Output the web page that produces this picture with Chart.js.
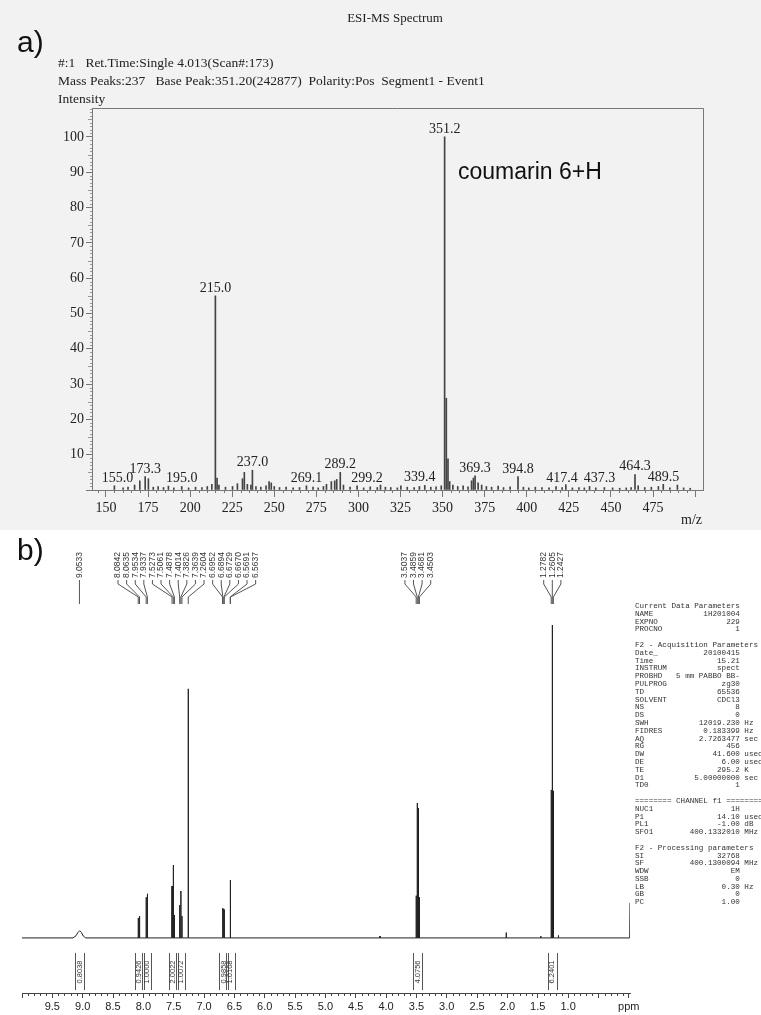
<!DOCTYPE html>
<html>
<head>
<meta charset="utf-8">
<script src="https://cdn.jsdelivr.net/npm/chart.js@4.4.0/dist/chart.umd.min.js"></script>
<style>
body { margin: 0; width: 761px; height: 1015px; position: relative; overflow: hidden; background: #fff; }
#scan { position: absolute; left: 0; top: 0; width: 761px; height: 530px; background: #f2f2f2; }
.t { position: absolute; white-space: pre; color: #222; font-family: "Liberation Serif", serif; line-height: 1; }
.big { font-family: "Liberation Sans", Arial, sans-serif; color: #111; }
#ms { position: absolute; left: 0; top: 0; }
#nmr { position: absolute; left: 0; top: 530px; }
#params { position: absolute; left: 635px; top: 603px; margin: 0; font-family: "Liberation Mono", monospace; font-size: 7.6px; line-height: 7.8px; color: #333; white-space: pre; }
</style>
</head>
<body>
<div id="scan"></div>
<canvas id="ms" width="761" height="530"></canvas>
<canvas id="nmr" width="761" height="485"></canvas>

<div class="t big" style="left:17px;top:27px;font-size:30px;">a)</div>
<div class="t" style="left:0;width:790px;text-align:center;top:11px;font-size:13px;">ESI-MS Spectrum</div>
<div class="t" style="left:58px;top:56px;font-size:13.5px;">#:1   Ret.Time:Single 4.013(Scan#:173)</div>
<div class="t" style="left:58px;top:74px;font-size:13.5px;">Mass Peaks:237   Base Peak:351.20(242877)  Polarity:Pos  Segment1 - Event1</div>
<div class="t" style="left:58px;top:92px;font-size:13.5px;">Intensity</div>
<div class="t big" style="left:458px;top:160px;font-size:23px;">coumarin 6+H</div>
<div class="t" style="left:681px;top:513px;font-size:14px;">m/z</div>
<div class="t big" style="left:17px;top:535px;font-size:30px;">b)</div>
<pre id="params"></pre>

<script>
// ---- a) ESI-MS peaks (m/z, relative intensity %)
const msMz = [155.0, 160.2, 163.1, 167.0, 170.1, 173.3, 175.2, 178.1, 181.0, 184.2, 187.1, 190.3,
  195.0, 199.1, 203.2, 207.0, 210.2, 212.9, 215.0, 216.0, 217.1, 221.0, 225.2, 228.1, 231.1,
  232.2, 234.0, 236.1, 237.0, 239.1, 242.0, 245.1, 246.9, 248.2, 250.0, 253.1, 257.0, 261.2,
  265.0, 269.1, 273.0, 276.1, 279.2, 281.0, 283.9, 285.9, 287.1, 289.2, 291.1, 295.0, 299.2,
  303.1, 307.0, 311.2, 313.1, 316.0, 319.2, 323.1, 325.2, 329.0, 333.1, 336.2, 339.4, 343.0,
  346.1, 349.2, 351.2, 352.2, 353.2, 354.2, 356.1, 359.0, 362.2, 365.1, 367.2, 368.3, 369.3,
  371.1, 373.2, 376.0, 379.1, 383.0, 386.2, 390.1, 394.8, 398.0, 401.2, 405.1, 409.0, 413.2,
  417.4, 421.0, 423.2, 427.1, 431.0, 434.2, 437.3, 441.0, 446.1, 451.0, 455.2, 459.1, 462.0,
  464.3, 466.2, 470.1, 474.0, 478.2, 481.1, 485.0, 489.5, 493.2, 497.1];
const msInt = [1.2, 0.6, 0.8, 1.4, 2.6, 3.8, 3.2, 0.8, 1.0, 0.7, 1.1, 0.6,
  1.0, 0.6, 0.8, 0.7, 1.0, 1.6, 55.0, 3.4, 1.4, 0.8, 1.0, 1.8, 3.2,
  5.0, 1.6, 1.4, 5.6, 1.0, 0.8, 1.2, 2.4, 2.0, 1.0, 0.7, 0.8, 0.6,
  0.7, 1.2, 0.8, 0.6, 1.0, 1.6, 2.4, 2.6, 3.0, 5.0, 1.4, 0.8, 1.2,
  0.6, 0.9, 0.7, 1.4, 0.8, 0.7, 0.6, 1.2, 0.8, 0.7, 1.0, 1.3, 0.8,
  0.9, 1.2, 100, 26.0, 8.8, 2.4, 1.4, 1.0, 1.2, 0.9, 2.6, 3.4, 4.0,
  2.0, 1.4, 1.0, 0.8, 1.1, 0.7, 0.9, 3.8, 0.8, 0.6, 0.8, 0.7, 0.6,
  1.0, 0.7, 1.5, 0.6, 0.7, 0.6, 1.0, 0.6, 0.7, 0.6, 0.5, 0.6, 0.7,
  4.4, 1.2, 0.7, 0.8, 1.0, 1.6, 0.6, 1.4, 0.6, 0.5];
const msLabeled = [155.0, 173.3, 195.0, 215.0, 237.0, 269.1, 289.2, 299.2, 339.4, 351.2,
  369.3, 394.8, 417.4, 437.3, 464.3, 489.5];
const msLabelShift = { 155.0: 3, 299.2: 10, 339.4: -5, 417.4: 6, 437.3: 10, 489.5: -14 };

// ---- b) 1H NMR
const nmrLabelPpm = [9.0533, 8.0842, 8.0635, 7.9534, 7.9337, 7.5273, 7.5061, 7.4878, 7.4014,
  7.3826, 7.3639, 7.2604, 6.6952, 6.6894, 6.6729, 6.6670, 6.5691, 6.5637,
  3.5037, 3.4859, 3.4681, 3.4503, 1.2782, 1.2605, 1.2427];
const nmrPeakPpm = [8.0842, 8.0635, 7.9534, 7.9337, 7.5273, 7.5061, 7.4878, 7.4014, 7.3826,
  7.3639, 7.2604, 6.6952, 6.6894, 6.6729, 6.6670, 6.5691, 6.5637, 4.10,
  3.5037, 3.4859, 3.4681, 3.4503, 2.02, 1.45, 1.2782, 1.2605, 1.2427, 1.16];
const nmrPeakInt = [6.4, 7.0, 13.0, 14.1, 16.6, 23.3, 7.3, 10.5, 15.0,
  7.0, 79.6, 9.5, 9.3, 9.3, 9.0, 18.5, 18.0, 0.6,
  13.5, 43.1, 41.5, 13.0, 1.7, 0.6, 47.3, 100, 47.0, 0.8];
// broad NH-type signal around 9.05 ppm
const broadPpm = [9.16, 9.11, 9.08, 9.05, 9.02, 8.99, 8.95];
const broadInt = [0, 0.7, 1.7, 2.3, 1.7, 0.6, 0];
const integralPpm = [9.05, 8.07, 7.94, 7.507, 7.382, 6.68, 6.566, 3.477, 1.26];
const integralVal = ['0.8038', '0.9426', '1.0000', '2.0022', '1.0072', '0.9858', '1.0108', '4.0756', '6.2401'];
const edgePpm = -0.02, edgeInt = 11.2;

const params = [
  ['Current Data Parameters'],
  ['NAME', '1H201004'], ['EXPNO', '229'], ['PROCNO', '1'], [''],
  ['F2 - Acquisition Parameters'],
  ['Date_', '20100415'], ['Time', '15.21'], ['INSTRUM', 'spect'], ['PROBHD', '5 mm PABBO BB-'],
  ['PULPROG', 'zg30'], ['TD', '65536'], ['SOLVENT', 'CDCl3'], ['NS', '8'], ['DS', '0'],
  ['SWH', '12019.230', 'Hz'], ['FIDRES', '0.183399', 'Hz'], ['AQ', '2.7263477', 'sec'],
  ['RG', '456'], ['DW', '41.600', 'usec'], ['DE', '6.00', 'usec'], ['TE', '295.2', 'K'],
  ['D1', '5.00000000', 'sec'], ['TD0', '1'], [''],
  ['======== CHANNEL f1 ========'],
  ['NUC1', '1H'], ['P1', '14.10', 'usec'], ['PL1', '-1.00', 'dB'], ['SFO1', '400.1332010', 'MHz'], [''],
  ['F2 - Processing parameters'],
  ['SI', '32768'], ['SF', '400.1300094', 'MHz'], ['WDW', 'EM'], ['SSB', '0'],
  ['LB', '0.30', 'Hz'], ['GB', '0'], ['PC', '1.00']
];
document.getElementById('params').textContent = params.map(r => {
  if (r.length === 1) return r[0];
  const line = r[0] + r[1].padStart(23 - r[0].length);
  return r[2] ? line + ' ' + r[2] : line;
}).join('\n');

const serif = '"Liberation Serif", serif';
const sans = '"Liberation Sans", Arial, sans-serif';

const msDecor = {
  id: 'msDecor',
  afterDraw(chart) {
    const { ctx, chartArea: a, scales: { x, y } } = chart;
    ctx.save();
    ctx.strokeStyle = '#777';
    ctx.lineWidth = 1;
    ctx.beginPath();
    ctx.moveTo(a.left, a.top + 0.5);
    ctx.lineTo(a.right + 0.5, a.top + 0.5);
    ctx.lineTo(a.right + 0.5, a.bottom);
    ctx.stroke();
    ctx.beginPath();
    for (let v = 145; v <= 500; v += 5) {
      if (v % 25 === 0) continue;
      const px = Math.round(x.getPixelForValue(v)) + 0.5;
      ctx.moveTo(px, a.bottom); ctx.lineTo(px, a.bottom + 3);
    }
    ctx.stroke();
    ctx.strokeStyle = '#999';
    ctx.beginPath();
    for (let v = 1; v <= 108; v += 1) {
      if (v % 10 === 0) continue;
      const py = Math.round(y.getPixelForValue(v)) + 0.5;
      ctx.moveTo(a.left, py); ctx.lineTo(a.left - (v % 5 === 0 ? 4 : 2), py);
    }
    ctx.stroke();
    ctx.fillStyle = '#222';
    ctx.font = '14px ' + serif;
    ctx.textAlign = 'center';
    ctx.textBaseline = 'alphabetic';
    msLabeled.forEach(m => {
      const i = msMz.indexOf(m);
      const px = x.getPixelForValue(m) + (msLabelShift[m] || 0);
      const py = y.getPixelForValue(msInt[i]) - 4;
      ctx.fillText(m.toFixed(1), px, py);
    });
    ctx.restore();
  }
};

new Chart(document.getElementById('ms'), {
  type: 'bar',
  data: {
    datasets: [{
      data: msMz.map((m, i) => ({ x: m, y: msInt[i] })),
      backgroundColor: '#444',
      barThickness: 1,
      borderWidth: 0
    }]
  },
  options: {
    responsive: false,
    animation: false,
    events: [],
    layout: { padding: { left: 0, right: 58, top: 108, bottom: 0 } },
    plugins: { legend: { display: false }, tooltip: { enabled: false } },
    scales: {
      x: {
        type: 'linear', min: 141.7, max: 504.7, offset: false,
        grid: { offset: false, drawOnChartArea: false, tickLength: 7, color: '#777' },
        border: { color: '#777' },
        ticks: {
          stepSize: 25, includeBounds: false, autoSkip: false, maxRotation: 0,
          font: { family: serif, size: 14 }, color: '#222',
          callback: v => (v >= 150 && v <= 475 && v % 25 === 0) ? String(v) : ''
        },
        afterFit: s => { s.height = 40; }
      },
      y: {
        min: 0, max: 108.2,
        grid: { drawOnChartArea: false, tickLength: 6, color: '#777' },
        border: { color: '#777' },
        ticks: {
          stepSize: 10, includeBounds: false, padding: 2,
          font: { family: serif, size: 14 }, color: '#222',
          callback: v => (v >= 10 && v <= 100) ? String(v) : ''
        },
        afterFit: s => { s.width = 92; }
      }
    }
  },
  plugins: [msDecor]
});

// push labels apart so they keep a minimum gap, centred on their peaks
function spread(xs, gap) {
  const groups = [];
  xs.forEach(v => {
    groups.push({ sum: v, n: 1, pos: v });
    while (groups.length > 1) {
      const b = groups[groups.length - 1], a = groups[groups.length - 2];
      if (b.pos < a.pos + a.n * gap) {
        const n = a.n + b.n, sum = a.sum + b.sum;
        groups.splice(-2, 2, { sum, n, pos: sum / n - (n - 1) * gap / 2 });
      } else break;
    }
  });
  const out = [];
  groups.forEach(g => { for (let k = 0; k < g.n; k++) out.push(g.pos + k * gap); });
  return out;
}

const nmrDecor = {
  id: 'nmrDecor',
  afterDraw(chart) {
    const { ctx, chartArea: a, scales: { x } } = chart;
    ctx.save();
    ctx.strokeStyle = '#444';
    ctx.lineWidth = 1;
    ctx.beginPath();
    for (let k = 1; k < 100; k++) {
      if (k % 5 === 0) continue;
      const px = Math.round(x.getPixelForValue(k / 10)) + 0.5;
      ctx.moveTo(px, a.bottom); ctx.lineTo(px, a.bottom + 3);
    }
    ctx.stroke();

    // peak labels with leader lines
    const px = nmrLabelPpm.map(p => x.getPixelForValue(p));
    const lx = spread(px, 8.6);
    ctx.fillStyle = '#333';
    ctx.strokeStyle = '#555';
    ctx.font = '8.5px ' + sans;
    nmrLabelPpm.forEach((p, i) => {
      ctx.save();
      ctx.translate(lx[i], a.top - 42);
      ctx.rotate(-Math.PI / 2);
      ctx.textAlign = 'left';
      ctx.textBaseline = 'middle';
      ctx.fillText(p.toFixed(4), 0, 0);
      ctx.restore();
      ctx.beginPath();
      ctx.moveTo(lx[i], a.top - 40);
      ctx.lineTo(lx[i], a.top - 36);
      ctx.lineTo(px[i], a.top - 23);
      ctx.lineTo(px[i], a.top - 16);
      ctx.stroke();
    });

    // integral brackets
    ctx.font = '7.5px ' + sans;
    ctx.strokeStyle = '#555';
    integralPpm.forEach((p, i) => {
      const cx = x.getPixelForValue(p);
      ctx.beginPath();
      [-4.5, 4.5].forEach(d => {
        const lxp = Math.round(cx + d) + 0.5;
        ctx.moveTo(lxp, a.bottom - 40); ctx.lineTo(lxp, a.bottom - 3);
      });
      ctx.stroke();
      ctx.save();
      ctx.translate(cx, a.bottom - 21);
      ctx.rotate(-Math.PI / 2);
      ctx.textAlign = 'center';
      ctx.textBaseline = 'middle';
      ctx.fillText(integralVal[i], 0, 0);
      ctx.restore();
    });
    ctx.restore();
  }
};

// spectrum trace: baseline with narrow lines at each read peak position
const half = 0.0025;
const pts = [{ x: 10.0, y: 0 }];
const items = [];
nmrPeakPpm.forEach((p, i) => items.push({ p, pts: [{ x: p + half, y: 0 }, { x: p, y: nmrPeakInt[i] }, { x: p - half, y: 0 }] }));
items.push({ p: broadPpm[0], pts: broadPpm.map((p, i) => ({ x: p, y: broadInt[i] })) });
items.sort((a, b) => b.p - a.p).forEach(it => pts.push(...it.pts));
pts.push({ x: edgePpm + 0.005, y: 0 }, { x: edgePpm, y: edgeInt });

new Chart(document.getElementById('nmr'), {
  type: 'line',
  data: {
    datasets: [{
      data: pts,
      borderColor: '#222',
      borderWidth: 1,
      pointRadius: 0,
      tension: 0,
      fill: false
    }]
  },
  options: {
    responsive: false,
    animation: false,
    events: [],
    layout: { padding: { left: 22, right: 131, top: 90, bottom: 0 } },
    plugins: { legend: { display: false }, tooltip: { enabled: false } },
    scales: {
      x: {
        type: 'linear', reverse: true, min: edgePpm, max: 10.0,
        grid: { drawOnChartArea: false, tickLength: 5, color: '#444' },
        border: { color: '#444' },
        ticks: {
          stepSize: 0.5, includeBounds: false, autoSkip: false, maxRotation: 0, padding: 2,
          font: { family: sans, size: 11 }, color: '#222',
          callback: v => Math.abs(v) < 1e-6 ? 'ppm' : (v >= 0.99 && v <= 9.51 ? v.toFixed(1) : '')
        },
        afterFit: s => { s.height = 22; }
      },
      y: { display: false, min: -17.6, max: 101.6 }
    }
  },
  plugins: [nmrDecor]
});
</script>
</body>
</html>
